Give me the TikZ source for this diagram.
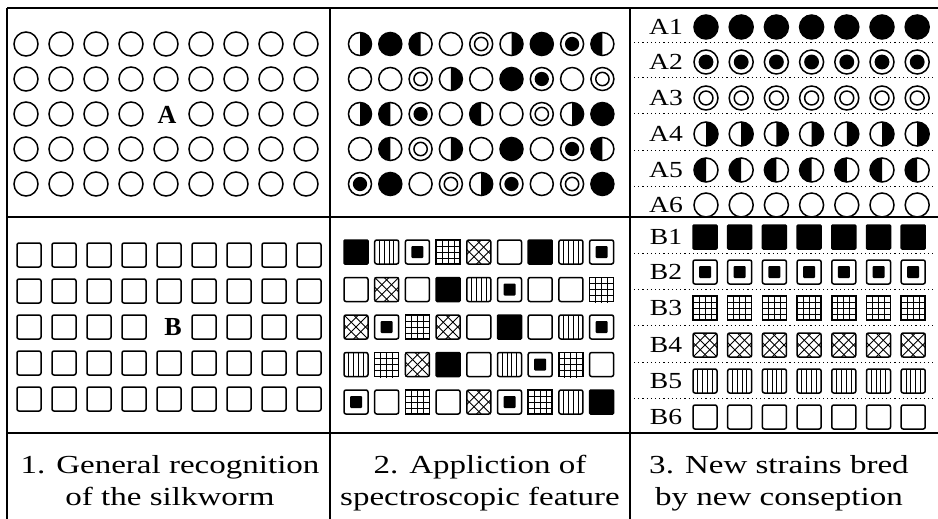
\documentclass[tikz,border=0pt]{standalone}
\usepackage{fontspec}
\setmainfont{Liberation Serif}
\usepackage{graphicx}
\tikzset{
  symline/.style={line width=1.5pt, black},
  inl/.style={line width=0.9pt, black},
  frame/.style={line width=1.6pt, black},
  sepdot/.style={line width=1pt, black, dash pattern=on 1.2pt off 3pt},
  caption/.style={font=\fontsize{26}{30}\selectfont, anchor=base, inner sep=0pt},
  rowlab/.style={font=\fontsize{23}{26}\selectfont, inner sep=0pt},
  biglab/.style={font=\fontsize{26}{28}\selectfont\bfseries, inner sep=0pt}
}
% circles: x y r
\newcommand\ciE[3]{\draw[symline] (#1,#2) circle (#3);}
\newcommand\ciF[3]{\filldraw[symline] (#1,#2) circle (#3);}
\newcommand\ciO[3]{\draw[symline] (#1,#2) circle (#3); \draw[symline] (#1,#2) circle ({0.58*#3});}
\newcommand\ciD[3]{\draw[symline] (#1,#2) circle (#3); \fill (#1,#2) circle ({0.62*#3});}
\newcommand\ciR[3]{\fill (#1,#2) -- ++(0,-#3) arc (-90:90:#3) -- cycle; \draw[symline] (#1,#2) circle (#3);}
\newcommand\ciL[3]{\fill (#1,#2) -- ++(0,-#3) arc (-90:-270:#3) -- cycle; \draw[symline] (#1,#2) circle (#3);}
% squares: x y halfsize
\newcommand\sqE[3]{\draw[symline,rounded corners=2pt] ({#1-#3},{#2-#3}) rectangle ({#1+#3},{#2+#3});}
\newcommand\sqF[3]{\filldraw[symline,rounded corners=1pt] ({#1-#3},{#2-#3}) rectangle ({#1+#3},{#2+#3});}
\newcommand\sqD[3]{\sqE{#1}{#2}{#3}\fill[rounded corners=1pt] ({#1-0.5*#3},{#2-0.5*#3}) rectangle ({#1+0.5*#3},{#2+0.5*#3});}
\newcommand\sqV[3]{\sqE{#1}{#2}{#3}\foreach \kk in {-0.6,-0.2,0.2,0.6}{\draw[inl] ({#1+\kk*#3},{#2-#3}) -- ({#1+\kk*#3},{#2+#3});}}
\newcommand\sqG[3]{\draw[symline] ({#1-#3},{#2-#3}) rectangle ({#1+#3},{#2+#3});
  \foreach \kk in {-0.5,0,0.5}{\draw[inl] ({#1+\kk*#3},{#2-#3}) -- ({#1+\kk*#3},{#2+1.1*#3}); \draw[inl] ({#1-#3},{#2+\kk*#3}) -- ({#1+#3},{#2+\kk*#3});}}
\newcommand\sqX[3]{\sqE{#1}{#2}{#3}\begin{scope}\clip ({#1-#3},{#2-#3}) rectangle ({#1+#3},{#2+#3});
  \foreach \kk in {-0.8,0,0.8}{\draw[inl] ({#1-#3+\kk*#3},{#2-#3}) -- ({#1+#3+\kk*#3},{#2+#3}); \draw[inl] ({#1-#3+\kk*#3},{#2+#3}) -- ({#1+#3+\kk*#3},{#2-#3});}\end{scope}}
\begin{document}
\begin{tikzpicture}[x=1pt,y=-1pt]
\fill[white] (0,0) rectangle (938,519);
\useasboundingbox (0,0) rectangle (938,519);
% frame
\draw[frame,line width=2.2pt] (7,8) -- (938,8);
\draw[frame] (7,8) -- (7,519);
\draw[frame] (330,8) -- (330,519);
\draw[frame] (630,8) -- (630,519);
\draw[frame] (7,217) -- (938,217);
\draw[frame] (7,433) -- (938,433);
% panel 1 circles
\foreach \j in {0,...,4}{\foreach \i in {0,...,8}{
  \ifnum\numexpr\i*10+\j\relax=42\relax\else
  \pgfmathsetmacro\xx{26+35*\i}\pgfmathsetmacro\yy{44+35*\j}
  \ciE{\xx}{\yy}{12}\fi}}
\node[biglab] (labA) at (167,115) {A};
% panel 1 squares
\foreach \j in {0,...,4}{\foreach \i in {0,...,8}{
  \ifnum\numexpr\i*10+\j\relax=42\relax\else
  \pgfmathsetmacro\xx{29+35*\i}\pgfmathsetmacro\yy{255+36*\j}
  \sqE{\xx}{\yy}{12}\fi}}
\node[biglab] (labB) at (173,327) {B};
% panel 2 circles
\foreach \row [count=\j from 0] in {{R,F,L,E,O,R,F,D,L},{E,E,O,R,E,F,D,E,O},{R,L,D,E,L,E,O,R,F},{E,L,O,R,E,F,E,D,L},{D,F,E,O,R,D,E,O,F}}{
  \foreach \t [count=\i from 0] in \row {
    \pgfmathsetmacro\xx{360+30.3*\i}\pgfmathsetmacro\yy{44+35*\j}
    \csname ci\t\endcsname{\xx}{\yy}{11.5}}}
% panel 2 squares
\foreach \row [count=\j from 0] in {{F,V,D,G,X,E,F,V,D},{E,X,E,F,V,D,E,E,G},{X,D,G,X,E,F,E,V,D},{V,G,X,F,E,V,D,G,E},{D,E,G,E,X,D,G,V,F}}{
  \foreach \t [count=\i from 0] in \row {
    \pgfmathsetmacro\xx{356+30.7*\i}\pgfmathsetmacro\yy{252+37.5*\j}
    \csname sq\t\endcsname{\xx}{\yy}{12}}}
% panel 3 circles
\foreach \t/\yv/\nm [count=\j] in {F/27/A1,D/62/A2,O/98/A3,R/134/A4,L/170/A5,E/205/A6}{
  \node[rowlab] (lab\nm) at (666,\yv) {\scalebox{1.2}[1]{\nm}};
  \foreach \i in {0,...,6}{
    \pgfmathsetmacro\xx{706+35.2*\i}
    \csname ci\t\endcsname{\xx}{\yv}{12}}}
\foreach \yv in {43,78,114,150,186}{\draw[sepdot] (634,\yv) -- (936,\yv);}
% panel 3 squares
\foreach \t/\yv/\nm [count=\j] in {F/237/B1,D/272/B2,G/308/B3,X/345/B4,V/381/B5,E/417/B6}{
  \node[rowlab] (lab\nm) at (666,\yv) {\scalebox{1.2}[1]{\nm}};
  \foreach \i in {0,...,6}{
    \pgfmathsetmacro\xx{705+34.7*\i}
    \csname sq\t\endcsname{\xx}{\yv}{12}}}
\foreach \yv in {253,289,325,362,398}{\draw[sepdot] (634,\yv) -- (936,\yv);}
% captions
\node[caption] (c1a) at (170,473) {\scalebox{1.27}[1]{1. General recognition}};
\node[caption] (c1b) at (170,505) {\scalebox{1.27}[1]{of the silkworm}};
\node[caption] (c2a) at (480,473) {\scalebox{1.27}[1]{2. Appliction of}};
\node[caption] (c2b) at (480,505) {\scalebox{1.27}[1]{spectroscopic feature}};
\node[caption] (c3a) at (779,473) {\scalebox{1.27}[1]{3. New strains bred}};
\node[caption] (c3b) at (779,505) {\scalebox{1.27}[1]{by new conseption}};
\end{tikzpicture}
\end{document}
